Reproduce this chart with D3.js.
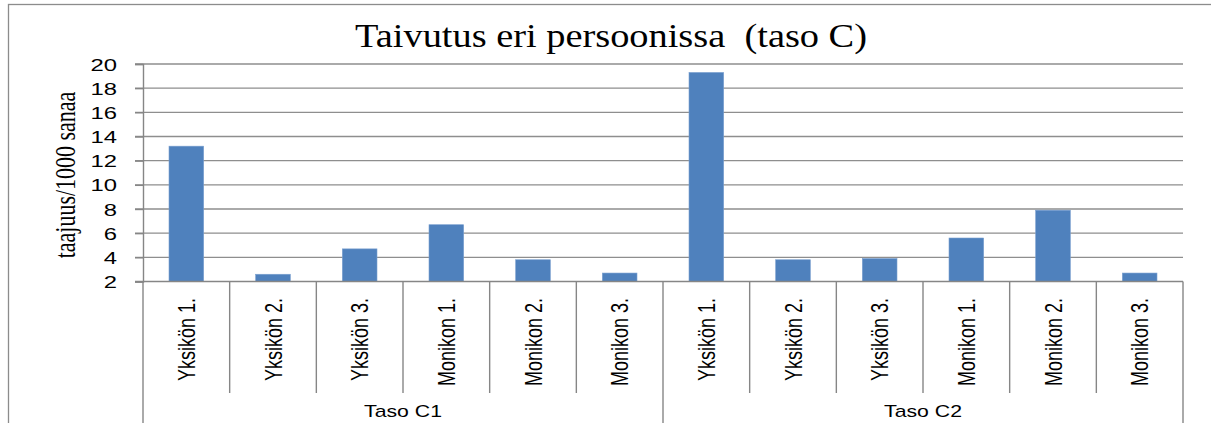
<!DOCTYPE html>
<html>
<head>
<meta charset="utf-8">
<script src="https://cdn.jsdelivr.net/npm/d3@7"></script>
<style>
  body { margin: 0; background: #fff; }
  svg { display: block; }
  .tick-label { font-family: "Liberation Sans", Arial, sans-serif; font-size: 17px; fill: #000; }
  .cat-label { font-family: "Liberation Sans", Arial, sans-serif; font-size: 18px; fill: #000; }
</style>
</head>
<body>
<div id="chart"></div>
<script>
// chart data
const groups = ["Taso C1", "Taso C2"];
const categories = ["Yksikön 1.", "Yksikön 2.", "Yksikön 3.", "Monikon 1.", "Monikon 2.", "Monikon 3."];
const valuesC1 = [13.2, 2.6, 4.7, 6.7, 3.8, 2.7];
const valuesC2 = [19.3, 3.8, 3.9, 5.6, 7.9, 2.7];
const yTicks = [2, 4, 6, 8, 10, 12, 14, 16, 18, 20];

const width = 1211, height = 423;
const plot = { left: 143, right: 1183, top: 64, bottom: 281.5 };
const stretch = 1.35; // text in the reference is drawn horizontally wide

const rows = groups.flatMap((g, gi) =>
  categories.map((c, ci) => ({ group: g, cat: c, value: [valuesC1, valuesC2][gi][ci] })));

const svg = d3.select("#chart").append("svg")
  .attr("width", width)
  .attr("height", height);

// outer chart border (runs past the right / bottom edge)
svg.append("rect")
  .attr("x", 8.5).attr("y", 4.5)
  .attr("width", 1215).attr("height", 440)
  .attr("fill", "none")
  .attr("stroke", "#8c8c8c")
  .attr("stroke-width", 1.3);

// ========== SCALES ==========
const x0 = d3.scaleBand().domain(groups).range([plot.left, plot.right]);
const x1 = d3.scaleBand().domain(categories).range([0, x0.bandwidth()])
  .paddingInner(0.6).paddingOuter(0.3);
const y = d3.scaleLinear().domain([2, 20]).range([plot.bottom, plot.top]);

// ========== GRIDLINES ==========
svg.append("g").selectAll("line")
  .data(yTicks.slice(1))
  .join("line")
  .attr("x1", plot.left - 8).attr("x2", plot.right)
  .attr("y1", d => y(d)).attr("y2", d => y(d))
  .attr("stroke", "#8e8e8e")
  .attr("stroke-width", 1.4);

// ========== BARS ==========
svg.append("g").selectAll("rect")
  .data(rows)
  .join("rect")
  .attr("x", d => x0(d.group) + x1(d.cat))
  .attr("width", x1.bandwidth())
  .attr("y", d => y(d.value))
  .attr("height", d => y(2) - y(d.value))
  .attr("fill", "#4f81bd")
  .attr("stroke", "#7aa0d0")
  .attr("stroke-width", 0.6);

// ========== LEFT AXIS ==========
const leftAxis = d3.axisLeft(y).tickValues(yTicks).tickSize(8).tickPadding(18);
const yAxisG = svg.append("g")
  .attr("transform", `translate(${plot.left}, 0)`)
  .call(leftAxis);
yAxisG.select(".domain").attr("stroke", "#868686").attr("stroke-width", 1.4);
yAxisG.selectAll(".tick line").attr("stroke", "#868686").attr("stroke-width", 1.4);
yAxisG.selectAll(".tick text")
  .attr("class", "tick-label")
  .attr("font-size", null).attr("font-family", null)
  .attr("dy", "0.36em")
  .attr("textLength", function() { return this.getComputedTextLength() * 1.4; })
  .attr("lengthAdjust", "spacingAndGlyphs");

// y-axis title
svg.append("text")
  .text("taajuus/1000 sanaa")
  .attr("transform", `translate(65, 175) scale(1.3, 1) rotate(-90)`)
  .attr("text-anchor", "middle")
  .attr("dy", "0.35em")
  .style("font-family", "'Liberation Serif', 'Times New Roman', serif")
  .style("font-size", "22px");

// ========== BOTTOM AXIS (two-level categories) ==========
const axisColor = "#868686";
svg.append("line")
  .attr("x1", plot.left - 8).attr("x2", plot.right)
  .attr("y1", plot.bottom).attr("y2", plot.bottom)
  .attr("stroke", axisColor).attr("stroke-width", 1.4);

// separators between categories (edges of each category step)
const catEdges = groups.flatMap(g =>
  categories.slice(1).map((c, i) => x0(g) + x1.step() * (i + 1)));
svg.append("g").selectAll("line")
  .data(catEdges)
  .join("line")
  .attr("x1", d => d).attr("x2", d => d)
  .attr("y1", plot.bottom).attr("y2", 393)
  .attr("stroke", axisColor).attr("stroke-width", 1.4);

// separators between groups
const groupEdges = groups.map(g => x0(g)).concat([x0(groups[groups.length - 1]) + x0.bandwidth()]);
svg.append("g").selectAll("line")
  .data(groupEdges)
  .join("line")
  .attr("x1", d => d).attr("x2", d => d)
  .attr("y1", plot.bottom).attr("y2", height + 5)
  .attr("stroke", axisColor).attr("stroke-width", 1.4);

// category labels
svg.append("g").selectAll("text")
  .data(rows)
  .join("text")
  .text(d => d.cat)
  .attr("transform", d => `translate(${x0(d.group) + x1(d.cat) + x1.bandwidth() / 2}, 298) scale(${stretch}, 1) rotate(-90)`)
  .attr("text-anchor", "end")
  .attr("dy", "0.36em")
  .attr("class", "cat-label");

// group labels
svg.append("g").selectAll("text")
  .data(groups)
  .join("text")
  .text(d => d)
  .attr("transform", d => `translate(${x0(d) + x0.bandwidth() / 2}, 417) scale(1.25, 1)`)
  .attr("text-anchor", "middle")
  .attr("class", "tick-label");

// ========== TITLE ==========
svg.append("text")
  .text("Taivutus eri persoonissa  (taso C)")
  .attr("x", 611)
  .attr("y", 47)
  .attr("text-anchor", "middle")
  .attr("textLength", 512)
  .attr("lengthAdjust", "spacingAndGlyphs")
  .style("white-space", "pre")
  .style("font-family", "'Liberation Serif', 'Times New Roman', serif")
  .style("font-size", "33px");
</script>
</body>
</html>
